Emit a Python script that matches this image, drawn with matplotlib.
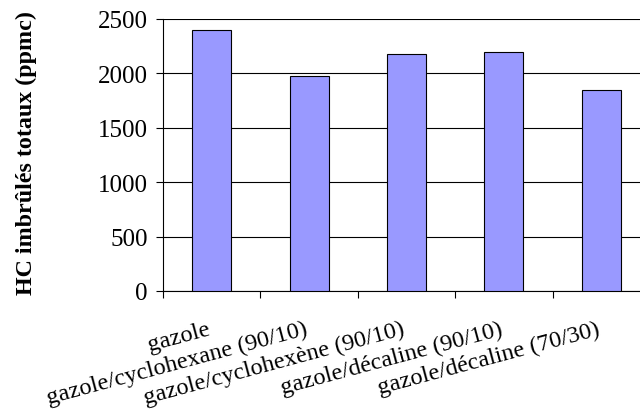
import matplotlib.pyplot as plt
import numpy as np

categories = ['gazole', 'gazole/cyclohexane (90/10)', 'gazole/cyclohexène (90/10)',
              'gazole/décaline (90/10)', 'gazole/décaline (70/30)']
hc_values = [2400, 1975, 2180, 2200, 1845]
y_ticks = [0, 500, 1000, 1500, 2000, 2500]

plt.rcParams['font.family'] = ['Liberation Serif', 'DejaVu Serif']

fig = plt.figure(figsize=(6.4, 4.1), dpi=100)
# plot area runs past the right edge of the figure, as in the original
ax = fig.add_axes([163 / 640, 1 - 292 / 410, 487 / 640, 272 / 410])

x = np.arange(len(categories))
ax.bar(x, hc_values, width=0.4, color='#9999FF', edgecolor='black', linewidth=0.8, zorder=3)

ax.set_xlim(-0.5, len(categories) - 0.5)
ax.set_ylim(0, 2500)
ax.set_yticks(y_ticks)
ax.yaxis.grid(True, color='black', linewidth=0.8, zorder=0)
ax.tick_params(axis='y', labelsize=18, length=5, width=0.8, direction='out', pad=6)

# tick marks between categories, labels at the centres
ax.set_xticks(np.arange(-0.5, len(categories)))
ax.set_xticklabels([])
ax.tick_params(axis='x', length=5, width=0.8, direction='out')
for xi, label in zip(x, categories):
    ax.text(xi - 0.05, -250, label, rotation=15, ha='right', va='top',
            rotation_mode='anchor', fontsize=17.5, clip_on=False)

for side in ['top', 'right']:
    ax.spines[side].set_visible(False)
ax.spines['left'].set_linewidth(0.8)
ax.spines['bottom'].set_linewidth(0.8)

ax.set_ylabel('HC imbrûlés totaux (ppmc)', fontsize=17.3, fontweight='bold')
ax.yaxis.set_label_coords(-0.258, 0.51)

fig.savefig('out.png', dpi=100)
